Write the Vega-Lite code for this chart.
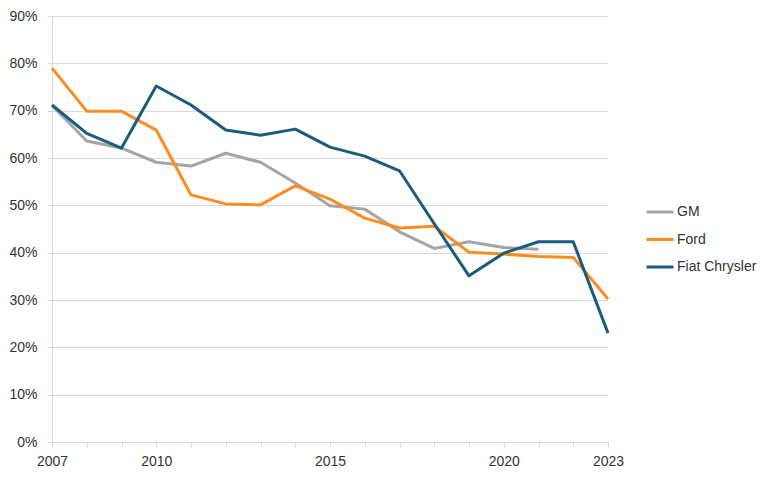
{
  "$schema": "https://vega.github.io/schema/vega-lite/v6.json",
  "width": 556,
  "height": 426,
  "autosize": {"type": "none"},
  "padding": {"left": 52, "top": 16, "right": 160, "bottom": 38},
  "background": "white",
  "config": {
    "view": {"stroke": null},
    "font": "Liberation Sans"
  },
  "data": {
    "values": [
      {"year": 2007, "company": "GM", "share": 0.711},
      {"year": 2008, "company": "GM", "share": 0.636},
      {"year": 2009, "company": "GM", "share": 0.621},
      {"year": 2010, "company": "GM", "share": 0.591},
      {"year": 2011, "company": "GM", "share": 0.583},
      {"year": 2012, "company": "GM", "share": 0.610},
      {"year": 2013, "company": "GM", "share": 0.591},
      {"year": 2014, "company": "GM", "share": 0.547},
      {"year": 2015, "company": "GM", "share": 0.499},
      {"year": 2016, "company": "GM", "share": 0.492},
      {"year": 2017, "company": "GM", "share": 0.444},
      {"year": 2018, "company": "GM", "share": 0.409},
      {"year": 2019, "company": "GM", "share": 0.423},
      {"year": 2020, "company": "GM", "share": 0.411},
      {"year": 2021, "company": "GM", "share": 0.407},
      {"year": 2007, "company": "Ford", "share": 0.790},
      {"year": 2008, "company": "Ford", "share": 0.699},
      {"year": 2009, "company": "Ford", "share": 0.699},
      {"year": 2010, "company": "Ford", "share": 0.659},
      {"year": 2011, "company": "Ford", "share": 0.522},
      {"year": 2012, "company": "Ford", "share": 0.503},
      {"year": 2013, "company": "Ford", "share": 0.501},
      {"year": 2014, "company": "Ford", "share": 0.541},
      {"year": 2015, "company": "Ford", "share": 0.513},
      {"year": 2016, "company": "Ford", "share": 0.473},
      {"year": 2017, "company": "Ford", "share": 0.452},
      {"year": 2018, "company": "Ford", "share": 0.456},
      {"year": 2019, "company": "Ford", "share": 0.401},
      {"year": 2020, "company": "Ford", "share": 0.397},
      {"year": 2021, "company": "Ford", "share": 0.392},
      {"year": 2022, "company": "Ford", "share": 0.390},
      {"year": 2023, "company": "Ford", "share": 0.302},
      {"year": 2007, "company": "Fiat Chrysler", "share": 0.712},
      {"year": 2008, "company": "Fiat Chrysler", "share": 0.652},
      {"year": 2009, "company": "Fiat Chrysler", "share": 0.621},
      {"year": 2010, "company": "Fiat Chrysler", "share": 0.752},
      {"year": 2011, "company": "Fiat Chrysler", "share": 0.712},
      {"year": 2012, "company": "Fiat Chrysler", "share": 0.659},
      {"year": 2013, "company": "Fiat Chrysler", "share": 0.648},
      {"year": 2014, "company": "Fiat Chrysler", "share": 0.661},
      {"year": 2015, "company": "Fiat Chrysler", "share": 0.623},
      {"year": 2016, "company": "Fiat Chrysler", "share": 0.604},
      {"year": 2017, "company": "Fiat Chrysler", "share": 0.573},
      {"year": 2018, "company": "Fiat Chrysler", "share": 0.461},
      {"year": 2019, "company": "Fiat Chrysler", "share": 0.351},
      {"year": 2020, "company": "Fiat Chrysler", "share": 0.399},
      {"year": 2021, "company": "Fiat Chrysler", "share": 0.423},
      {"year": 2022, "company": "Fiat Chrysler", "share": 0.423},
      {"year": 2023, "company": "Fiat Chrysler", "share": 0.230}
    ]
  },
  "mark": {"type": "line", "strokeWidth": 3, "strokeJoin": "round", "strokeCap": "butt"},
  "encoding": {
    "x": {
      "field": "year",
      "type": "quantitative",
      "scale": {"domain": [2007, 2023], "nice": false, "zero": false},
      "axis": {
        "title": null,
        "grid": false,
        "values": [2007, 2008, 2009, 2010, 2011, 2012, 2013, 2014, 2015, 2016, 2017, 2018, 2019, 2020, 2021, 2022, 2023],
        "labelExpr": "(datum.value == 2007 || datum.value == 2023 || datum.value % 5 == 0) ? datum.label : ''",
        "format": "d",
        "domainColor": "#d9d9d9",
        "tickColor": "#d9d9d9",
        "tickSize": 5,
        "labelPadding": 7,
        "labelFontSize": 14,
        "labelColor": "#333333",
        "labelFont": "Liberation Sans",
        "labelOverlap": false,
        "labelFlush": false
      }
    },
    "y": {
      "field": "share",
      "type": "quantitative",
      "scale": {"domain": [0, 0.9], "nice": false},
      "axis": {
        "title": null,
        "values": [0, 0.1, 0.2, 0.3, 0.4, 0.5, 0.6, 0.7, 0.8, 0.9],
        "format": ".0%",
        "grid": true,
        "gridColor": "#d9d9d9",
        "gridWidth": 1,
        "domainColor": "#d9d9d9",
        "tickColor": "#d9d9d9",
        "tickSize": 5,
        "labelPadding": 10,
        "labelFontSize": 14,
        "labelColor": "#333333",
        "labelFont": "Liberation Sans"
      }
    },
    "color": {
      "field": "company",
      "type": "nominal",
      "sort": ["GM", "Ford", "Fiat Chrysler"],
      "scale": {
        "domain": ["GM", "Ford", "Fiat Chrysler"],
        "range": ["#a5a5a5", "#ff8c1f", "#1b5b7d"]
      },
      "legend": {
        "title": null,
        "orient": "none",
        "legendX": 593,
        "legendY": 181,
        "symbolType": "stroke",
        "symbolSize": 729,
        "symbolStrokeWidth": 3,
        "labelFontSize": 14,
        "labelColor": "#333333",
        "labelFont": "Liberation Sans",
        "labelOffset": 2,
        "rowPadding": 5.5,
        "padding": 0
      }
    }
  }
}
